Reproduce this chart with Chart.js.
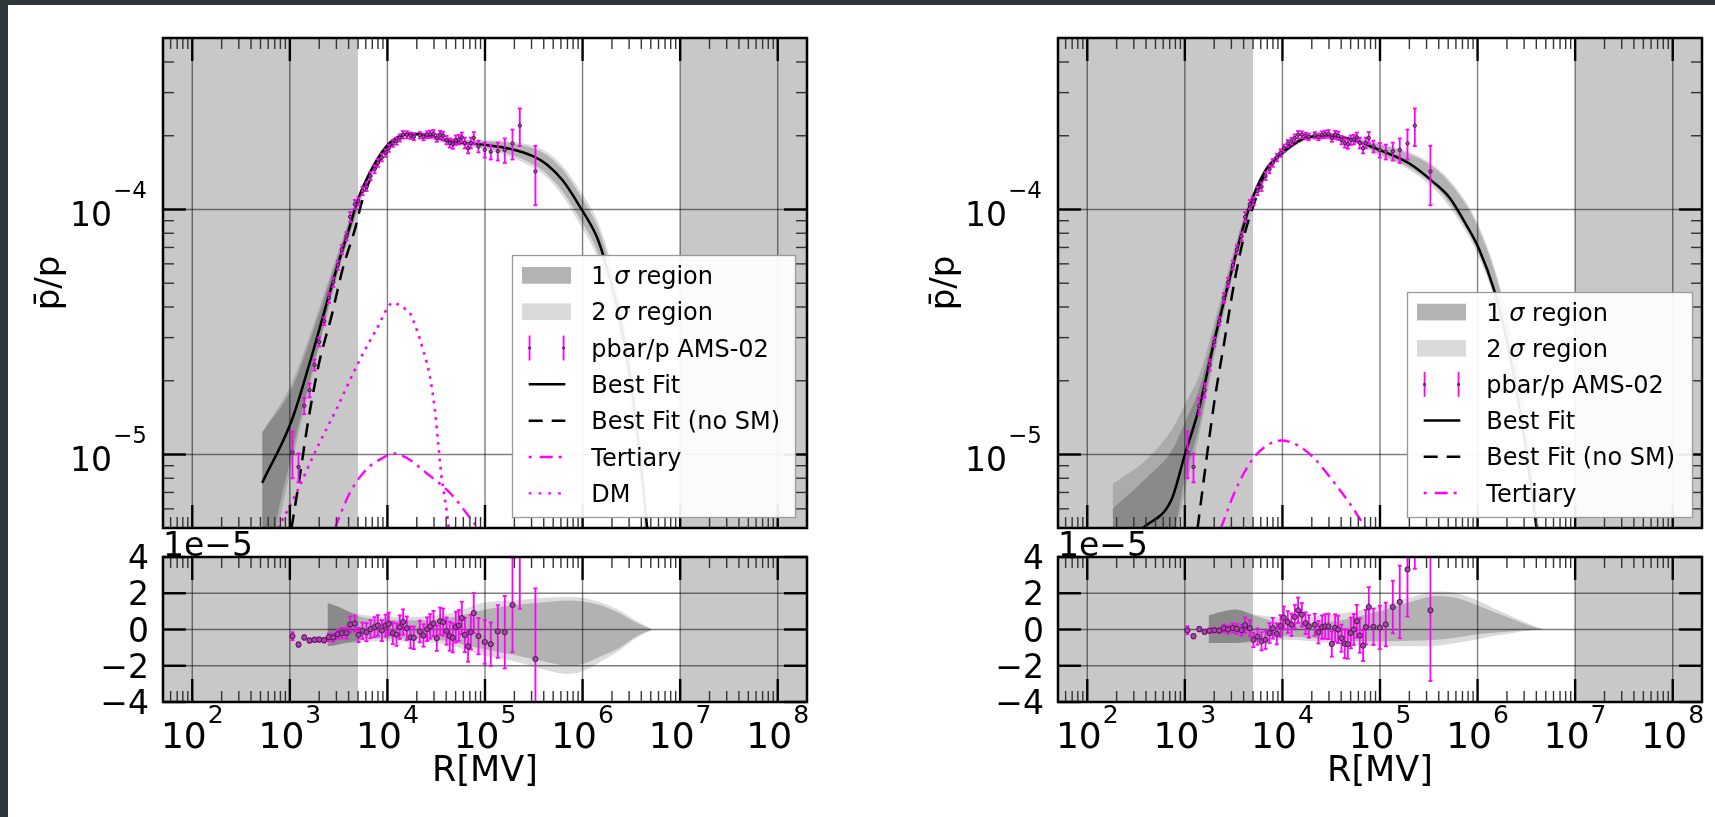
<!DOCTYPE html>
<html lang="en">
<head>
<meta charset="UTF-8">
<title>pbar/p fits</title>
<script src="https://cdn.jsdelivr.net/npm/chart.js@4"></script>
<style>
  html, body { margin: 0; padding: 0; }
  body { width: 1715px; height: 817px; overflow: hidden; position: relative; background: #2f3639; }
  #sheet { position: absolute; left: 8px; top: 5px; right: 0; bottom: 0; background: #fff; }
  canvas { position: absolute; left: 0; top: 0; }
</style>
</head>
<body>
<div id="sheet"></div>
<canvas id="mainL" width="1715" height="817"></canvas>
<canvas id="resL" width="1715" height="817"></canvas>
<canvas id="mainR" width="1715" height="817"></canvas>
<canvas id="resR" width="1715" height="817"></canvas>
<script>
// ---- data (R in MV) ----
const dataR = [1064, 1227, 1404, 1592, 1791, 2000, 2250, 2512, 2782, 3105, 3412, 3810, 4150, 4634, 5055, 5556, 6108, 6714, 7380, 7980,
  8770, 9560, 10330, 11350, 12390, 13390, 14480, 15810, 17260, 18640, 21470, 23430, 25530, 27410, 29670, 32070, 34690, 37240, 40340, 43580,
  46810, 50250, 53930, 57850, 62100, 67150, 71550, 76770, 85750, 99500, 114600, 135300, 159500, 191300, 227500, 328700];
const dataV = [1.02e-5, 8.9e-6, 1.58e-5, 1.83e-5, 2.32e-5, 2.88e-5, 3.5e-5, 4.36e-5, 5.05e-5, 5.93e-5, 6.87e-5, 7.78e-5, 9.33e-5, 1.05e-4, 1.08e-4, 1.19e-4, 1.24e-4, 1.37e-4, 1.46e-4, 1.55e-4,
  1.63e-4, 1.70e-4, 1.78e-4, 1.86e-4, 1.90e-4, 1.96e-4, 2.02e-4, 2.02e-4, 2.0e-4, 1.98e-4, 2.01e-4, 1.98e-4, 2.02e-4, 2.03e-4, 2.04e-4, 1.96e-4, 2.02e-4, 2.0e-4, 1.92e-4, 1.87e-4,
  1.85e-4, 1.92e-4, 1.93e-4, 1.97e-4, 1.87e-4, 1.78e-4, 1.87e-4, 1.96e-4, 1.81e-4, 1.75e-4, 1.72e-4, 1.73e-4, 1.75e-4, 1.86e-4, 2.2e-4, 1.43e-4];
// errors in units of 1e-5
const dataErr = [0.22, 0.12, 0.12, 0.12, 0.12, 0.12, 0.13, 0.2, 0.22, 0.25, 0.28, 0.3, 0.43, 0.44, 0.4, 0.45, 0.5, 0.5, 0.55, 0.57,
  0.58, 0.6, 0.62, 0.6, 0.62, 0.65, 0.7, 0.65, 0.6, 0.62, 0.6, 0.62, 0.65, 0.68, 0.7, 0.7, 0.75, 0.75, 0.75, 0.8,
  0.8, 0.85, 0.85, 0.9, 0.95, 0.85, 0.95, 1.1, 1.0, 1.2, 1.2, 1.45, 2.0, 2.6, 3.85, 3.9];
// residuals (data - fit), units of 1e-5
const resLeft = [-0.37, -0.83, -0.44, -0.61, -0.57, -0.56, -0.59, -0.42, -0.44, -0.26, -0.2, -0.2, 0.28, 0.33, -0.3, -0.07, -0.15, 0.02, 0.13, 0.22,
  -0.06, 0.22, 0.31, -0.2, -0.28, 0.13, 0.41, 0.07, -0.43, -0.46, -0.11, -0.33, 0.02, 0.17, 0.33, -0.48, 0.46, 0.41, -0.09, -0.37,
  -0.46, 0.13, 0.22, 0.63, -0.3, -0.93, -0.15, 0.91, -0.37, -0.69, -0.81, -0.11, -0.15, 1.35, 5.0, -1.63];
const resRight = [-0.04, -0.37, 0.02, -0.13, -0.07, -0.04, -0.06, 0.07, 0, 0.09, 0.04, -0.04, 0.24, 0.07, -0.57, -0.39, -0.65, -0.57, -0.2, 0.07,
  -0.24, 0.19, 0.65, 0.41, 0.26, 0.7, 1.06, 0.81, 0.35, 0.17, 0.26, -0.15, 0.13, 0.17, 0.17, -0.8, 0.09, 0, -0.48, -0.78,
  -0.81, -0.19, 0, 0.46, -0.33, -0.89, 0.13, 1.24, 0.15, 0.11, 0.28, 1.24, 1.52, 3.31, 7.2, 1.06];

// left panel curves
const bfL_R = [520, 1040, 1600, 2190, 3000, 4120, 4820, 6600, 9770, 12400, 17000, 27200, 43600, 95900, 180000, 310000, 427000, 630000, 935000, 1390000, 1620000, 2200000, 3000000, 3800000, 4600000];
const bfL_V = [7.66e-6, 1.37e-5, 2.37e-5, 3.67e-5, 5.69e-5, 8.55e-5, 1.06e-4, 1.41e-4, 1.81e-4, 1.96e-4, 2.04e-4, 2.0e-4, 1.9e-4, 1.84e-4, 1.77e-4, 1.65e-4, 1.53e-4, 1.31e-4, 1.03e-4, 7.78e-5, 6.55e-5, 4.2e-5, 2.2e-5, 1.05e-5, 5.0e-6];
const nsL_R = [1040, 1265, 1541, 1996, 2673, 3467, 4742, 5418, 7140, 9400, 12390];
const nsL_V = [5.0e-6, 8.15e-6, 1.37e-5, 2.37e-5, 3.67e-5, 5.69e-5, 8.55e-5, 1.06e-4, 1.41e-4, 1.7e-4, 1.96e-4];
const terL_R = [2890, 4120, 6110, 9030, 11430, 15700, 25100, 43600, 81800];
const terL_V = [5.0e-6, 6.98e-6, 8.7e-6, 9.7e-6, 1.01e-5, 9.7e-6, 8.4e-6, 6.98e-6, 5.1e-6];
const dmL_R = [759, 1170, 1870, 3000, 4820, 7730, 11430, 14500, 17000, 19900, 23200, 27200, 30600, 33100, 35800, 40300, 42500];
const dmL_V = [5.0e-6, 6.98e-6, 1.05e-5, 1.53e-5, 2.29e-5, 3.24e-5, 4.16e-5, 3.97e-5, 3.78e-5, 3.24e-5, 2.68e-5, 2.09e-5, 1.53e-5, 1.12e-5, 8.15e-6, 5.97e-6, 5.0e-6];
const bandL_R = [520, 1040, 1600, 2190, 3000, 4120, 6600, 10000, 17000, 43600, 100000, 180000, 310000, 427000, 630000, 935000, 1390000, 1620000, 2200000, 3000000, 3800000, 4600000];
const bandL2Up = [1.23e-5, 1.95e-5, 3.05e-5, 4.4e-5, 6.4e-5, 9.2e-5, 1.47e-4, 1.87e-4, 2.08e-4, 1.95e-4, 1.92e-4, 1.9e-4, 1.82e-4, 1.72e-4, 1.5e-4, 1.2e-4, 9.2e-5, 7.8e-5, 5.1e-5, 2.75e-5, 1.35e-5, 6.5e-6];
const bandL1Up = [1.23e-5, 1.85e-5, 2.9e-5, 4.2e-5, 6.2e-5, 9.0e-5, 1.45e-4, 1.86e-4, 2.07e-4, 1.94e-4, 1.9e-4, 1.87e-4, 1.78e-4, 1.67e-4, 1.45e-4, 1.15e-4, 8.7e-5, 7.4e-5, 4.8e-5, 2.55e-5, 1.23e-5, 6.0e-6];
const bandL1Lo = [3.0e-6, 1.0e-5, 2.0e-5, 3.3e-5, 5.3e-5, 8.1e-5, 1.37e-4, 1.78e-4, 2.01e-4, 1.86e-4, 1.78e-4, 1.68e-4, 1.53e-4, 1.4e-4, 1.18e-4, 9.2e-5, 6.9e-5, 5.8e-5, 3.65e-5, 1.9e-5, 9.0e-6, 4.2e-6];
const bandL2Lo = [2.5e-6, 9.0e-6, 1.9e-5, 3.2e-5, 5.2e-5, 7.9e-5, 1.35e-4, 1.76e-4, 2.0e-4, 1.84e-4, 1.75e-4, 1.64e-4, 1.48e-4, 1.35e-4, 1.13e-4, 8.7e-5, 6.5e-5, 5.4e-5, 3.4e-5, 1.75e-5, 8.3e-6, 3.8e-6];
const resBandL_R = [2430, 3000, 4000, 5000, 7000, 10000, 20000, 32000, 50000, 100000, 200000, 400000, 700000, 1000000, 1500000, 2400000, 3500000, 5200000];
const resL1Up = [1.46, 1.3, 1.0, 0.75, 0.6, 0.55, 0.5, 0.55, 0.7, 1.1, 1.35, 1.5, 1.6, 1.55, 1.35, 0.9, 0.4, 0];
const resL1Lo = [-0.93, -0.85, -0.7, -0.6, -0.5, -0.5, -0.5, -0.55, -0.75, -1.1, -1.4, -1.75, -2.0, -1.9, -1.5, -1.0, -0.4, 0];
const resL2Up = [1.46, 1.3, 1.0, 0.85, 0.75, 0.7, 0.7, 0.78, 0.95, 1.5, 1.6, 1.75, 1.8, 1.75, 1.5, 1.05, 0.5, 0];
const resL2Lo = [-0.93, -0.85, -0.75, -0.7, -0.65, -0.65, -0.7, -0.74, -0.95, -1.45, -1.75, -2.2, -2.45, -2.3, -1.8, -1.15, -0.5, 0];

// right panel curves
const bfR_R = [369, 731, 1000, 1400, 2000, 3080, 4570, 6760, 10000, 16100, 27900, 48400, 106000, 200000, 347000, 514000, 760000, 1040000, 1490000, 2000000, 2800000, 3600000, 4500000];
const bfR_V = [5.0e-6, 6.55e-6, 1.0e-5, 1.55e-5, 2.9e-5, 5.8e-5, 1.02e-4, 1.45e-4, 1.7e-4, 1.94e-4, 2.0e-4, 1.94e-4, 1.73e-4, 1.54e-4, 1.3e-4, 1.12e-4, 8.7e-5, 6.87e-5, 4.64e-5, 2.9e-5, 1.4e-5, 7.0e-6, 3.5e-6];
const nsR_R = [1350, 1580, 2000, 2530, 3200, 4050, 5140, 6500, 8500, 12000];
const nsR_V = [5.0e-6, 8.15e-6, 1.63e-5, 2.86e-5, 5.0e-5, 7.8e-5, 1.06e-4, 1.37e-4, 1.62e-4, 1.85e-4];
const terR_R = [2340, 3330, 4930, 6760, 9660, 13700, 20400, 30200, 48400, 71800];
const terR_V = [5.0e-6, 7.2e-6, 9.55e-6, 1.08e-5, 1.14e-5, 1.1e-5, 9.8e-6, 8.15e-6, 6.35e-6, 5.0e-6];
const bandR_R = [182, 400, 750, 1000, 1400, 2000, 3000, 4500, 7000, 10000, 20000, 50000, 100000, 200000, 400000, 700000, 1000000, 1500000, 2000000, 3000000, 4500000];
const bandR2Up = [7.6e-6, 9.5e-6, 1.28e-5, 1.6e-5, 2.1e-5, 3.45e-5, 6.3e-5, 1.07e-4, 1.53e-4, 1.76e-4, 2.02e-4, 2.0e-4, 1.87e-4, 1.72e-4, 1.46e-4, 1.13e-4, 8.8e-5, 5.75e-5, 3.75e-5, 1.7e-5, 4.3e-6];
const bandR1Up = [6.0e-6, 8.0e-6, 1.05e-5, 1.35e-5, 1.85e-5, 3.2e-5, 6.0e-5, 1.04e-4, 1.51e-4, 1.74e-4, 2.0e-4, 1.98e-4, 1.84e-4, 1.69e-4, 1.43e-4, 1.1e-4, 8.55e-5, 5.55e-5, 3.6e-5, 1.6e-5, 4.0e-6];
const bandR1Lo = [2.0e-6, 3.0e-6, 4.5e-6, 8.0e-6, 1.3e-5, 2.65e-5, 5.3e-5, 9.6e-5, 1.43e-4, 1.67e-4, 1.94e-4, 1.91e-4, 1.675e-4, 1.48e-4, 1.2e-4, 8.85e-5, 6.8e-5, 4.4e-5, 2.8e-5, 1.25e-5, 3.3e-6];
const bandR2Lo = [1.5e-6, 2.5e-6, 4.0e-6, 7.0e-6, 1.2e-5, 2.5e-5, 5.1e-5, 9.3e-5, 1.4e-4, 1.65e-4, 1.92e-4, 1.89e-4, 1.65e-4, 1.45e-4, 1.16e-4, 8.55e-5, 6.55e-5, 4.25e-5, 2.65e-5, 1.2e-5, 3.2e-6];
const resBandR_R = [1750, 3300, 5000, 10400, 33000, 100000, 200000, 380000, 600000, 940000, 1500000, 2300000, 3500000, 4800000];
const resR1Up = [0.78, 1.1, 0.8, 0.37, 0.46, 1.02, 1.5, 1.85, 1.75, 1.39, 0.95, 0.56, 0.2, 0];
const resR1Lo = [-0.74, -0.74, -0.6, -0.37, -0.56, -0.65, -0.62, -0.56, -0.45, -0.28, -0.18, -0.09, -0.03, 0];
const resR2Up = [0.78, 1.1, 0.85, 0.65, 0.83, 1.3, 1.75, 2.09, 2.0, 1.67, 1.15, 0.7, 0.28, 0];
const resR2Lo = [-0.74, -0.74, -0.7, -0.56, -0.74, -0.93, -0.93, -0.9, -0.75, -0.56, -0.35, -0.19, -0.06, 0];

// shaded (excluded) rigidity ranges
const excluded = [[50, 5000], [1e7, 2e8]];

// axis ticks / labels
const xMajorExps = [2, 3, 4, 5, 6, 7, 8];
const yMajorExps = [-4, -5];
const resTicks = [-4, -2, 0, 2, 4];
const resTickLabels = ['\u22124', '\u22122', '0', '2', '4'];
const legendLabelsL = ['1 \u03c3 region', '2 \u03c3 region', 'pbar/p AMS-02', 'Best Fit', 'Best Fit (no SM)', 'Tertiary', 'DM'];
const legendLabelsR = ['1 \u03c3 region', '2 \u03c3 region', 'pbar/p AMS-02', 'Best Fit', 'Best Fit (no SM)', 'Tertiary'];
const legendKinds = ['band1', 'band2', 'err', 'solid', 'dash', 'dashdot', 'dot'];

// ---- styling / layout ----
const W = 1715, H = 817;
const FONT = '"DejaVu Sans", "Liberation Sans", sans-serif';
const X_MIN = Math.pow(10, 1.7), X_MAX = Math.pow(10, 8.3);
const Y_MIN = Math.pow(10, -5.3), Y_MAX = Math.pow(10, -3.3);
const MAG = '#ff00ff';
const EXCL = '#c8c8c8';
const BAND1 = 'rgba(0,0,0,0.19)', BAND2 = 'rgba(0,0,0,0.14)';
const DASH = [14, 9], DASHDOT = [12, 6, 3, 6], DOT = [2.8, 5.5];

const rects = {
  mainL: {l: 163, t: 38, r: 807, b: 528},
  resL: {l: 163, t: 557, r: 807, b: 702},
  mainR: {l: 1058, t: 38, r: 1702, b: 528},
  resR: {l: 1058, t: 557, r: 1702, b: 702}
};

const pts = (xs, ys) => xs.map((x, i) => ({x: x, y: ys[i]}));

function lineDs(label, xs, ys, color, width, dash) {
  return {label: label, data: pts(xs, ys), borderColor: color, borderWidth: width, borderDash: dash || [],
    pointRadius: 0, fill: false, cubicInterpolationMode: 'monotone'};
}
function bandDs(xs, ys, fill, color) {
  return {data: pts(xs, ys), borderWidth: 0, borderColor: 'transparent', pointRadius: 0,
    fill: fill, backgroundColor: color, cubicInterpolationMode: 'monotone'};
}
function exclDs(range, top) {
  return {data: [{x: range[0], y: top}, {x: range[1], y: top}], borderWidth: 0, borderColor: 'transparent',
    pointRadius: 0, fill: 'start', backgroundColor: EXCL, tension: 0};
}
function pointDs(vals, r) {
  return {label: 'pbar/p AMS-02', data: pts(dataR, vals), showLine: false, pointRadius: r,
    pointBackgroundColor: '#b43cb4', pointBorderColor: '#3a1f3a', pointBorderWidth: 1, fill: false};
}

const decor = {
  mainL: {kind: 'main', errY: dataV, errUnit: 1e-5, legend: {l: 512, t: 255, r: 795, b: 517, row0: 275.3, step: 36.35}, labels: legendLabelsL},
  resL: {kind: 'res', errY: resLeft, errUnit: 1},
  mainR: {kind: 'main', errY: dataV, errUnit: 1e-5, legend: {l: 1407, t: 292, r: 1692, b: 517, row0: 312, step: 36.2}, labels: legendLabelsR},
  resR: {kind: 'res', errY: resRight, errUnit: 1}
};

function seg(ctx, x1, y1, x2, y2) { ctx.beginPath(); ctx.moveTo(x1, y1); ctx.lineTo(x2, y2); ctx.stroke(); }
function clipArea(ctx, a) { ctx.beginPath(); ctx.rect(a.left, a.top, a.right - a.left, a.bottom - a.top); ctx.clip(); }

function drawGrid(chart, cfg) {
  const ctx = chart.ctx, a = chart.chartArea, xs = chart.scales.x, ys = chart.scales.y;
  ctx.save(); clipArea(ctx, a);
  ctx.strokeStyle = 'rgba(0,0,0,0.5)'; ctx.lineWidth = 1.4;
  xMajorExps.forEach(e => { const p = xs.getPixelForValue(Math.pow(10, e)); seg(ctx, p, a.top, p, a.bottom); });
  const yv = cfg.kind === 'main' ? yMajorExps.map(e => Math.pow(10, e)) : resTicks;
  yv.forEach(v => { const p = ys.getPixelForValue(v); seg(ctx, a.left, p, a.right, p); });
  ctx.restore();
}

function drawErrorBars(chart, cfg) {
  const ctx = chart.ctx, a = chart.chartArea, xs = chart.scales.x, ys = chart.scales.y;
  ctx.save(); clipArea(ctx, a);
  ctx.strokeStyle = MAG; ctx.lineWidth = 1.8;
  cfg.errY.forEach((v, i) => {
    const e = dataErr[i] * cfg.errUnit;
    const px = xs.getPixelForValue(dataR[i]);
    const top = ys.getPixelForValue(v + e), bot = ys.getPixelForValue(v - e);
    seg(ctx, px, top, px, bot);
    seg(ctx, px - 2, top, px + 2, top);
    seg(ctx, px - 2, bot, px + 2, bot);
  });
  ctx.restore();
}

function drawTicks(chart, cfg) {
  const ctx = chart.ctx, a = chart.chartArea, xs = chart.scales.x, ys = chart.scales.y;
  ctx.save();
  for (let e = 1; e <= 8; e++) {
    for (let m = 1; m <= 9; m++) {
      const v = m * Math.pow(10, e);
      if (v < X_MIN || v > X_MAX) continue;
      const p = xs.getPixelForValue(v), major = m === 1, len = major ? 23 : 11;
      ctx.lineWidth = major ? 2.4 : 1.4; ctx.strokeStyle = major ? '#000' : '#333';
      seg(ctx, p, a.top, p, a.top + len); seg(ctx, p, a.bottom, p, a.bottom - len);
    }
  }
  const yt = [];
  if (cfg.kind === 'main') {
    for (let e = -6; e <= -4; e++) for (let m = 1; m <= 9; m++) {
      const v = m * Math.pow(10, e);
      if (v >= Y_MIN && v <= Y_MAX) yt.push({v: v, major: m === 1});
    }
  } else {
    resTicks.forEach(v => yt.push({v: v, major: true}));
  }
  yt.forEach(t => {
    const p = ys.getPixelForValue(t.v), len = t.major ? 23 : 11;
    ctx.lineWidth = t.major ? 2.4 : 1.4; ctx.strokeStyle = t.major ? '#000' : '#333';
    seg(ctx, a.left, p, a.left + len, p); seg(ctx, a.right, p, a.right - len, p);
  });
  ctx.lineWidth = 2.5; ctx.strokeStyle = '#000';
  ctx.strokeRect(a.left, a.top, a.right - a.left, a.bottom - a.top);
  ctx.restore();
}

function drawPow(ctx, exp, x, base, align, bigPx, smallPx, lift) {
  const big = bigPx + 'px ' + FONT, small = smallPx + 'px ' + FONT;
  ctx.font = big; const w1 = ctx.measureText('10').width;
  ctx.font = small; const w2 = ctx.measureText(exp).width;
  const x0 = align === 'center' ? x - (w1 + 1 + w2) / 2 : x - (w1 + 1 + w2);
  ctx.textAlign = 'left'; ctx.textBaseline = 'alphabetic';
  ctx.font = big; ctx.fillText('10', x0, base);
  ctx.font = small; ctx.fillText(exp, x0 + w1 + 1, base - lift);
}

function drawLabels(chart, cfg) {
  const ctx = chart.ctx, a = chart.chartArea, xs = chart.scales.x, ys = chart.scales.y;
  ctx.save(); ctx.fillStyle = '#000';
  if (cfg.kind === 'main') {
    yMajorExps.forEach(e => {
      const p = ys.getPixelForValue(Math.pow(10, e));
      drawPow(ctx, '\u2212' + Math.abs(e), a.left - 16, p + 16, 'right', 33, 23, 28);
    });
    ctx.save();
    ctx.translate(a.left - 113, (a.top + a.bottom) / 2);
    ctx.rotate(-Math.PI / 2);
    ctx.font = '34px ' + FONT; ctx.textAlign = 'center'; ctx.textBaseline = 'middle';
    ctx.fillText('p\u0304/p', 0, 0);
    ctx.restore();
  } else {
    xMajorExps.forEach(e => drawPow(ctx, String(e), xs.getPixelForValue(Math.pow(10, e)), a.bottom + 46, 'center', 36, 25, 25));
    ctx.font = '33px ' + FONT; ctx.textAlign = 'right'; ctx.textBaseline = 'alphabetic';
    resTicks.forEach((t, i) => ctx.fillText(resTickLabels[i], a.left - 14, ys.getPixelForValue(t) + 12));
    ctx.textAlign = 'left';
    ctx.fillText('1e\u22125', a.left, a.top - 1);
    ctx.font = '35px ' + FONT; ctx.textAlign = 'center';
    ctx.fillText('R[MV]', (a.left + a.right) / 2, 781);
  }
  ctx.restore();
}

function drawRich(ctx, text, x, base) {
  const parts = text.split('\u03c3');
  let cx = x;
  parts.forEach((p, i) => {
    ctx.font = '24px ' + FONT; ctx.fillText(p, cx, base); cx += ctx.measureText(p).width;
    if (i < parts.length - 1) {
      ctx.font = 'italic 24px ' + FONT; ctx.fillText('\u03c3', cx, base); cx += ctx.measureText('\u03c3').width;
    }
  });
}

function drawLegend(chart, cfg) {
  const ctx = chart.ctx, L = cfg.legend;
  ctx.save();
  ctx.fillStyle = 'rgba(255,255,255,0.92)';
  ctx.fillRect(L.l, L.t, L.r - L.l, L.b - L.t);
  ctx.strokeStyle = '#9a9a9a'; ctx.lineWidth = 1.3;
  ctx.strokeRect(L.l + 0.5, L.t + 0.5, L.r - L.l, L.b - L.t);
  const s0 = L.l + 16.7, s1 = L.l + 53.3;
  cfg.labels.forEach((lab, i) => {
    const y = L.row0 + i * L.step, kind = legendKinds[i];
    ctx.setLineDash([]);
    if (kind === 'band1' || kind === 'band2') {
      ctx.fillStyle = kind === 'band1' ? '#b3b3b3' : '#dadada';
      ctx.fillRect(L.l + 10, y - 8.3, 49, 16.7);
    } else if (kind === 'err') {
      [L.l + 17.6, L.l + 51.6].forEach(px => {
        ctx.strokeStyle = MAG; ctx.lineWidth = 1.8; seg(ctx, px, y - 12.5, px, y + 12.5);
        ctx.fillStyle = '#6a2a6a'; ctx.beginPath(); ctx.arc(px, y, 1.6, 0, 2 * Math.PI); ctx.fill();
      });
    } else {
      ctx.lineWidth = kind === 'solid' || kind === 'dash' ? 2.5 : 2.4;
      ctx.strokeStyle = kind === 'solid' || kind === 'dash' ? '#000' : MAG;
      if (kind === 'dash') ctx.setLineDash(DASH);
      if (kind === 'dashdot') { ctx.setLineDash([3, 8, 13, 6, 3, 20]); }
      if (kind === 'dot') ctx.setLineDash([2.8, 7]);
      seg(ctx, s0, y, s1, y);
    }
    ctx.setLineDash([]);
    ctx.fillStyle = '#000'; ctx.textAlign = 'left'; ctx.textBaseline = 'alphabetic';
    drawRich(ctx, lab, L.l + 79.3, y + 8.5);
  });
  ctx.restore();
}

const decorPlugin = {
  id: 'decor',
  beforeDatasetsDraw(chart) { drawGrid(chart, decor[chart.canvas.id]); },
  beforeDatasetDraw(chart, args) { if (args.index === 0) drawErrorBars(chart, decor[chart.canvas.id]); },
  afterDraw(chart) {
    const cfg = decor[chart.canvas.id];
    drawTicks(chart, cfg);
    drawLabels(chart, cfg);
    if (cfg.legend) drawLegend(chart, cfg);
  }
};

function makeChart(id, datasets) {
  const r = rects[id], isMain = decor[id].kind === 'main';
  return new Chart(document.getElementById(id), {
    type: 'line',
    data: {datasets: datasets},
    options: {
      responsive: false, animation: false, events: [],
      layout: {padding: {left: r.l, top: r.t, right: W - r.r, bottom: H - r.b}},
      scales: {
        x: {type: 'logarithmic', min: X_MIN, max: X_MAX, display: false},
        y: isMain ? {type: 'logarithmic', min: Y_MIN, max: Y_MAX, display: false}
                  : {type: 'linear', min: -4, max: 4, display: false}
      },
      plugins: {legend: {display: false}, tooltip: {enabled: false}, filler: {drawTime: 'beforeDraw'}}
    },
    plugins: [decorPlugin]
  });
}

makeChart('mainL', [
  pointDs(dataV, 1.7),
  lineDs('Best Fit', bfL_R, bfL_V, '#000', 2.5),
  lineDs('Best Fit (no SM)', nsL_R, nsL_V, '#000', 2.5, DASH),
  lineDs('Tertiary', terL_R, terL_V, MAG, 2.4, DASHDOT),
  lineDs('DM', dmL_R, dmL_V, MAG, 2.6, DOT),
  bandDs(bandL_R, bandL1Up, '+1', BAND1), bandDs(bandL_R, bandL1Lo, false, BAND1),
  bandDs(bandL_R, bandL2Up, '+1', BAND2), bandDs(bandL_R, bandL2Lo, false, BAND2),
  exclDs(excluded[0], Y_MAX), exclDs(excluded[1], Y_MAX)
]);
makeChart('resL', [
  pointDs(resLeft, 2.6),
  bandDs(resBandL_R, resL1Up, '+1', BAND1), bandDs(resBandL_R, resL1Lo, false, BAND1),
  bandDs(resBandL_R, resL2Up, '+1', BAND2), bandDs(resBandL_R, resL2Lo, false, BAND2),
  exclDs(excluded[0], 4), exclDs(excluded[1], 4)
]);
makeChart('mainR', [
  pointDs(dataV, 1.7),
  lineDs('Best Fit', bfR_R, bfR_V, '#000', 2.5),
  lineDs('Best Fit (no SM)', nsR_R, nsR_V, '#000', 2.5, DASH),
  lineDs('Tertiary', terR_R, terR_V, MAG, 2.4, DASHDOT),
  bandDs(bandR_R, bandR1Up, '+1', BAND1), bandDs(bandR_R, bandR1Lo, false, BAND1),
  bandDs(bandR_R, bandR2Up, '+1', BAND2), bandDs(bandR_R, bandR2Lo, false, BAND2),
  exclDs(excluded[0], Y_MAX), exclDs(excluded[1], Y_MAX)
]);
makeChart('resR', [
  pointDs(resRight, 2.6),
  bandDs(resBandR_R, resR1Up, '+1', BAND1), bandDs(resBandR_R, resR1Lo, false, BAND1),
  bandDs(resBandR_R, resR2Up, '+1', BAND2), bandDs(resBandR_R, resR2Lo, false, BAND2),
  exclDs(excluded[0], 4), exclDs(excluded[1], 4)
]);
</script>
</body>
</html>
